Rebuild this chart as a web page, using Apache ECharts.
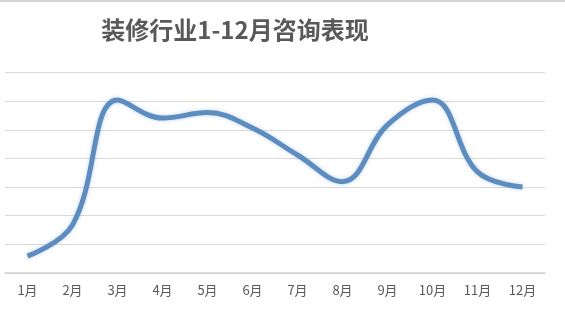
<!DOCTYPE html>
<html><head><meta charset="utf-8">
<script src="https://cdn.jsdelivr.net/npm/echarts@6/dist/echarts.min.js"></script>
<style>html,body{margin:0;padding:0;background:#fff}#c{width:565px;height:318px}</style>
</head><body><div id="c"></div>
<script>
var categories = ['1月','2月','3月','4月','5月','6月','7月','8月','9月','10月','11月','12月'];
var values = [0.59, 1.68, 6.04, 5.41, 5.60, 5.06, 4.12, 3.19, 5.17, 6.04, 3.53, 3.00];
var titleText = '装修行业1-12月咨询表现';

var chart = echarts.init(document.getElementById('c'));
chart.setOption({
  backgroundColor: '#fff',
  animation: false,
  title: {
    text: titleText, left: 230, top: 13, textAlign: 'center',
    textStyle: {fontFamily: '"Noto Sans CJK SC"', fontSize: 24, fontWeight: 'bold', color: '#595959'}
  },
  graphic: [{type: 'rect', shape: {x: 0, y: 0, width: 565, height: 2}, style: {fill: '#d4d4d4'}}],
  grid: {left: 5, right: 20, top: 72.5, bottom: 45},
  xAxis: {
    type: 'category', data: categories, boundaryGap: true,
    axisLine: {lineStyle: {color: '#d0d0d0', width: 1.5}},
    axisTick: {show: false},
    axisLabel: {color: '#595959', fontSize: 13, margin: 11, fontFamily: '"Noto Sans CJK SC"'}
  },
  yAxis: {
    type: 'value', min: 0, max: 7, interval: 1,
    axisLabel: {show: false}, axisLine: {show: false}, axisTick: {show: false},
    splitLine: {lineStyle: {color: '#d9d9d9', width: 1}}
  },
  series: [{
    type: 'line', data: values, smooth: 0.4, symbol: 'none',
    lineStyle: {color: '#5d8cc0', width: 5, shadowColor: 'rgba(91,139,192,0.35)', shadowBlur: 4}
  }]
});
</script></body></html>
